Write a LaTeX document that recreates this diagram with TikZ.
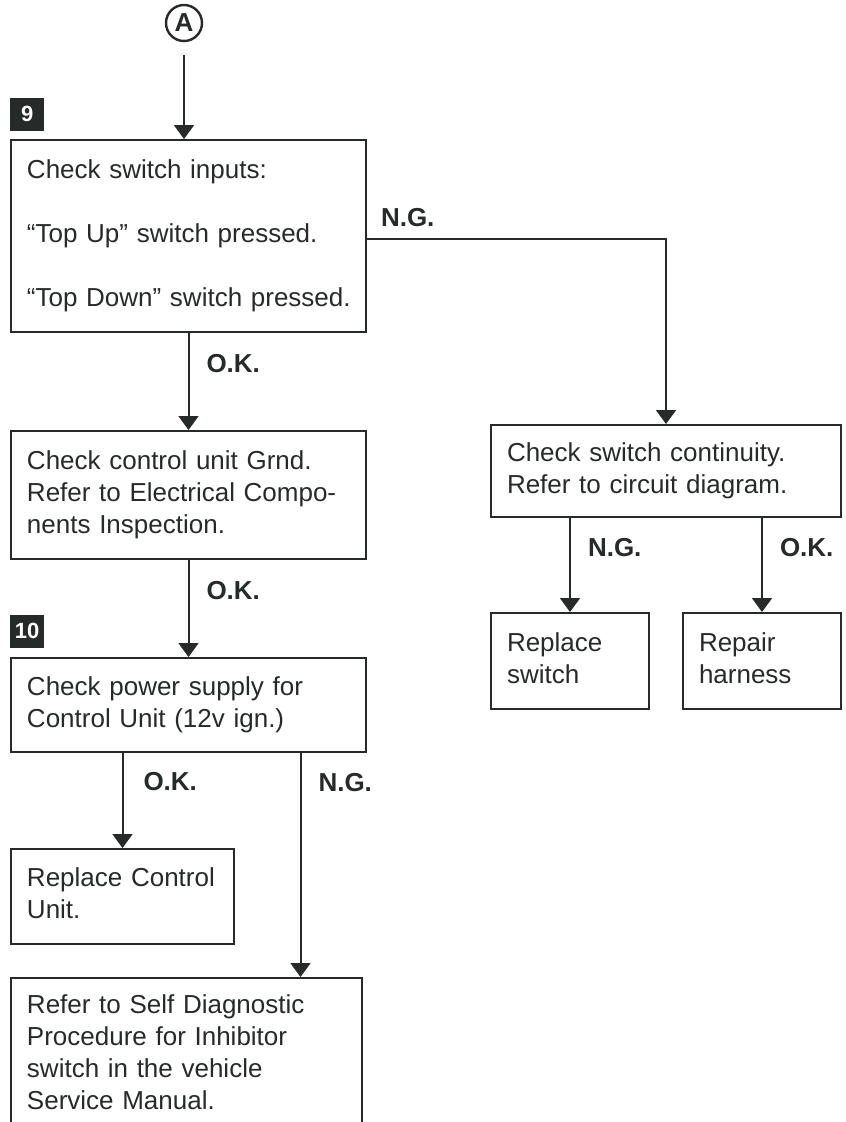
\documentclass[tikz,border=0pt]{standalone}
\usepackage{fontspec}
\setmainfont{Liberation Sans}
\usepackage{tikz}
\usetikzlibrary{arrows.meta, positioning, calc}
\definecolor{ink}{HTML}{262A28}

\begin{document}
\begin{tikzpicture}[
        x=1pt, y=-1pt,
        box/.style={rectangle, draw=ink, line width=2pt, anchor=north west, align=left, inner xsep=16pt, inner ysep=13pt, text=ink, font=\fontsize{26}{32}\selectfont, execute at begin node={\noindent\strut}, execute at end node=\strut},
        stepnum/.style={rectangle, fill=ink, text=white, minimum width=34pt, minimum height=33pt, inner sep=0pt, font=\bfseries\fontsize{22}{24}\selectfont},
        lbl/.style={anchor=west, inner sep=0pt, xshift=17pt, text=ink, font=\bfseries\fontsize{26}{32}\selectfont},
        conn/.style={-{Triangle[length=14pt, width=20pt]}, line width=2pt, draw=ink},
    ]
        \clip (0,0) rectangle (846,1122);

        % Start
        \node[circle, draw=ink, line width=2.4pt, minimum size=36pt, inner sep=0pt, text=ink, font=\bfseries\fontsize{26}{26}\selectfont] (A) at (184,23) {A};

        % Step 9
        \node[box, text width=323pt, minimum height=192pt] (b9) at (10,139) {Check switch inputs:\\[32pt] \mbox{“Top Up” switch pressed.}\\[32pt] \mbox{“Top Down” switch pressed.}};
        \node[stepnum, above=8pt of b9.north west, anchor=south west] (s9) {9};
        \node[box, text width=323pt, minimum height=128pt, below=97pt of b9.south west, anchor=north west] (grnd) {Check control unit Grnd.\\ Refer to Electrical Compo-\\ nents Inspection.};

        % Step 10
        \node[box, text width=323pt, minimum height=94pt, below=97pt of grnd.south west, anchor=north west] (b10) {Check power supply for\\ Control Unit (12v ign.)};
        \node[stepnum, above=9pt of b10.north west, anchor=south west] (s10) {10};
        \node[box, text width=191pt, minimum height=95pt, below=95pt of b10.south west, anchor=north west] (rcu) {Replace Control\\ Unit.};
        \node[box, text width=319pt, below=224pt of b10.south west, anchor=north west] (diag) {Refer to Self Diagnostic\\ Procedure for Inhibitor\\ switch in the vehicle\\ Service Manual.};

        % Switch branch
        \node[box, text width=318pt, minimum height=92pt] (cont) at (490,424) {Check switch continuity.\\ Refer to circuit diagram.};
        \node[box, text width=126pt, minimum height=96pt, below=94pt of cont.south west, anchor=north west] (rsw) {Replace\\ switch};
        \node[box, text width=126pt, minimum height=96pt, right=32pt of rsw.north east, anchor=north west] (rh) {Repair\\ harness};

        % Connections
        \draw[conn, shorten <=13pt] (A) -- (A |- b9.north);
        \draw[conn] (b9.south) -- (grnd.north) node[lbl, pos=.32] {O.K.};
        \draw[conn] (grnd.south) -- (b10.north) node[lbl, pos=.31] {O.K.};
        \draw[conn] (rcu.north |- b10.south) -- (rcu.north) node[lbl, pos=.3, xshift=3pt] {O.K.};
        \draw[conn] ([xshift=112pt]b10.south) -- ([xshift=112pt]b10.south |- diag.north) node[lbl, pos=.13] {N.G.};
        \draw[conn] ([yshift=-3pt]b9.east) -| (cont.north) node[lbl, pos=0, anchor=base west, xshift=-4pt, yshift=13pt] {N.G.};
        \draw[conn] (rsw.north |- cont.south) -- (rsw.north) node[lbl, pos=.31] {N.G.};
        \draw[conn] (rh.north |- cont.south) -- (rh.north) node[lbl, pos=.31] {O.K.};
    \end{tikzpicture}
\end{document}
